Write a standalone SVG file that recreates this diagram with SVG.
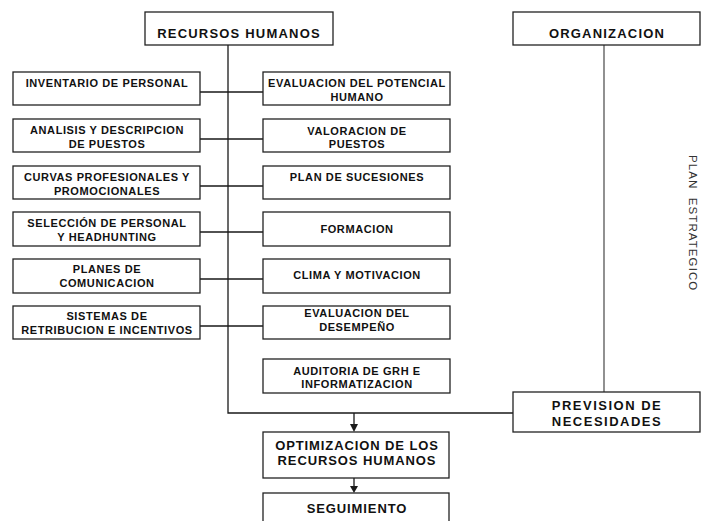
<svg xmlns="http://www.w3.org/2000/svg" width="702" height="521" viewBox="0 0 702 521">
<style>
.box{fill:#fff;stroke:#222;stroke-width:1.3}
.t{font-family:"Liberation Sans",Arial,sans-serif;font-weight:bold;font-size:11px;letter-spacing:0.6px;fill:#111;text-anchor:middle}
.tl{font-size:13px;letter-spacing:1.2px}
.tb{font-size:13px;letter-spacing:0.9px}
.tp{font-size:13px;letter-spacing:1.5px}
.ln{stroke:#1a1a1a;stroke-width:1.3;fill:none}
.lg{stroke:#555;stroke-width:1.3;fill:none}
.ah{fill:#1a1a1a}
</style>
<rect width="702" height="521" fill="#fff"/>
<g id="connectors">
<path class="ln" d="M228,45 V413 H513"/>
<path class="lg" d="M604,45 V392"/>
<path class="ln" d="M200,92 H263 M200,139 H263 M200,186 H263 M200,232 H263 M200,279 H263 M200,326 H263"/>
<path class="ln" d="M354,413 V425 M354,478 V487"/>
<polygon class="ah" points="350,424 358,424 354,432"/>
<polygon class="ah" points="350,486 358,486 354,493"/>
</g>
<g id="recursos-humanos"><rect class="box" x="145" y="12" width="188" height="33"/><text class="t tl" x="239" y="37.5">RECURSOS HUMANOS</text></g>
<g id="organizacion"><rect class="box" x="513" y="12" width="187" height="33"/><text class="t tl" x="607" y="37.5">ORGANIZACION</text></g>
<g id="inventario"><rect class="box" x="13" y="72" width="187" height="33"/><text class="t" x="107" y="87">INVENTARIO DE PERSONAL</text></g>
<g id="analisis"><rect class="box" x="13" y="119" width="187" height="33"/><text class="t" x="107" y="134">ANALISIS Y DESCRIPCION</text><text class="t" x="107" y="148">DE PUESTOS</text></g>
<g id="curvas"><rect class="box" x="13" y="166" width="187" height="33"/><text class="t" x="107" y="181">CURVAS PROFESIONALES Y</text><text class="t" x="107" y="195">PROMOCIONALES</text></g>
<g id="seleccion"><rect class="box" x="13" y="212" width="187" height="34"/><text class="t" x="107" y="227">SELECCIÓN DE PERSONAL</text><text class="t" x="107" y="241">Y HEADHUNTING</text></g>
<g id="planes"><rect class="box" x="13" y="259" width="187" height="34"/><text class="t" x="107" y="273">PLANES DE</text><text class="t" x="107" y="287">COMUNICACION</text></g>
<g id="sistemas"><rect class="box" x="13" y="306" width="187" height="33"/><text class="t" x="107" y="320">SISTEMAS DE</text><text class="t" x="107" y="334">RETRIBUCION E INCENTIVOS</text></g>
<g id="evaluacion-potencial"><rect class="box" x="263" y="72" width="187" height="33"/><text class="t" x="357" y="87">EVALUACION DEL POTENCIAL</text><text class="t" x="357" y="100.5">HUMANO</text></g>
<g id="valoracion"><rect class="box" x="263" y="119" width="187" height="33"/><text class="t" x="357" y="134.5">VALORACION DE</text><text class="t" x="357" y="148">PUESTOS</text></g>
<g id="sucesiones"><rect class="box" x="263" y="166" width="187" height="33"/><text class="t" x="357" y="180.5">PLAN DE SUCESIONES</text></g>
<g id="formacion"><rect class="box" x="263" y="212" width="187" height="34"/><text class="t" x="357" y="233">FORMACION</text></g>
<g id="clima"><rect class="box" x="263" y="259" width="187" height="34"/><text class="t" x="357" y="279">CLIMA Y MOTIVACION</text></g>
<g id="desempeno"><rect class="box" x="263" y="306" width="187" height="33"/><text class="t" x="357" y="317">EVALUACION DEL</text><text class="t" x="357" y="330.5">DESEMPEÑO</text></g>
<g id="auditoria"><rect class="box" x="263" y="359" width="187" height="34"/><text class="t" x="357" y="374.5">AUDITORIA DE GRH E</text><text class="t" x="357" y="388">INFORMATIZACION</text></g>
<g id="prevision"><rect class="box" x="513" y="392" width="187" height="40"/><text class="t tp" x="607" y="410">PREVISION DE</text><text class="t tp" x="607" y="426">NECESIDADES</text></g>
<g id="optimizacion"><rect class="box" x="263" y="432" width="186" height="46"/><text class="t tb" x="357" y="449.5">OPTIMIZACION DE LOS</text><text class="t tb" x="357" y="464.5">RECURSOS HUMANOS</text></g>
<g id="seguimiento"><rect class="box" x="263" y="493" width="186" height="40"/><text class="t tb" x="357" y="513">SEGUIMIENTO</text></g>
<g id="plan-estrategico"><text transform="translate(689,155) rotate(90)" x="0" y="0" font-family="'Liberation Sans',Arial,sans-serif" font-size="11.5" letter-spacing="1.1" word-spacing="4" fill="#333">PLAN ESTRATEGICO</text></g>
</svg>
